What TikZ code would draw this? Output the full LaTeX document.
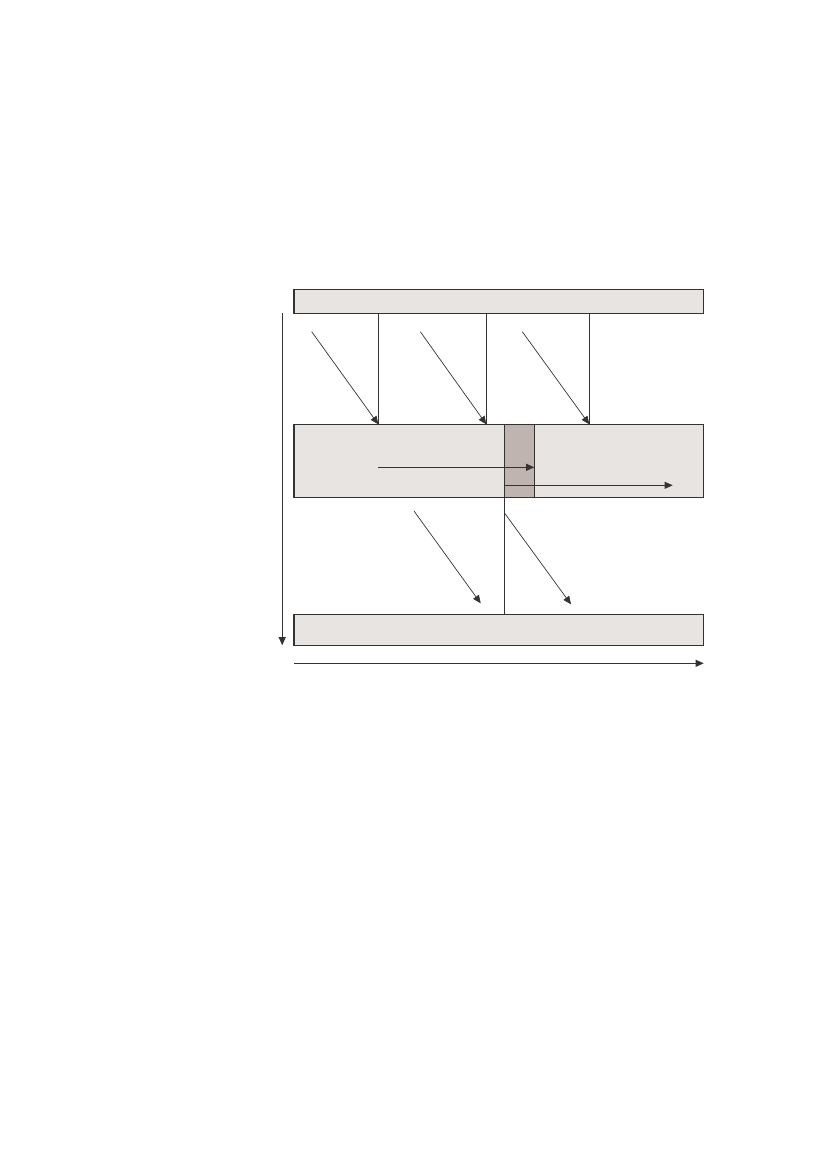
\documentclass[tikz,border=0pt]{standalone}
\usetikzlibrary{arrows.meta,positioning}
\definecolor{diaglinegray}{RGB}{51,51,51}
\definecolor{diaglightgray}{RGB}{232,228,226}
\definecolor{diagmidgray}{RGB}{192,180,176}

\begin{document}
\begin{tikzpicture}[x=0.7203pt,y=-0.7203pt,
        layerbox/.style={draw=diaglinegray, fill=diaglightgray, line width=0.75pt,
                         inner sep=0pt, outer sep=0pt, anchor=north west, minimum width=295.1pt},
        link/.style={draw=diaglinegray, line width=0.75pt},
        flow/.style={draw=diaglinegray, line width=0.5pt, -{Triangle[length=5.8pt,width=5pt]}}]
    \useasboundingbox (0,0) rectangle (826,1169);

    % the three layers
    \node[layerbox, minimum height=17.3pt] (top) at (294,289.3) {};
    \node[layerbox, minimum height=52.6pt] (mid) at (294,424.3) {};
    \node[layerbox, minimum height=22.3pt] (bottom) at (294,614.3) {};
    \node[layerbox, fill=diagmidgray, minimum width=21.6pt, minimum height=52.6pt] (shade) at (504.3,424.3) {};

    % drops from the top layer
    \foreach \x/\s [count=\i] in {378.3/311.7, 486.3/420.3, 589.3/522.3} {
        \coordinate (drop\i) at (\x,0);
        \coordinate (start\i) at (\s,331.7);
        \draw[link] (top.south -| drop\i) -- (mid.north -| drop\i);
        \draw[flow] (start\i) -- (mid.north -| drop\i);
    }

    % inside the middle layer
    \coordinate (pass) at (378,467.3);
    \coordinate (out) at (672.7,485.3);
    \draw[flow] (pass) -- (pass -| shade.east);
    \draw[flow] (out -| shade.west) -- (out);

    % down to the bottom layer
    \draw[link] (shade.south west) -- (bottom.north -| shade.south west);
    \coordinate (low1) at (414,511);
    \coordinate (lowend1) at (480.7,603.3);
    \coordinate (low2) at (504.3,512.7);
    \coordinate (lowend2) at (571,604.3);
    \draw[flow] (low1) -- (lowend1);
    \draw[flow] (low2) -- (lowend2);

    % axes
    \draw[flow, line width=0.75pt] ([xshift=-8.5pt]top.south west) -- ([xshift=-8.5pt]bottom.south west);
    \draw[flow, line width=0.75pt] ([yshift=-13pt]bottom.south west) -- ([yshift=-13pt]bottom.south east);
\end{tikzpicture}
\end{document}
